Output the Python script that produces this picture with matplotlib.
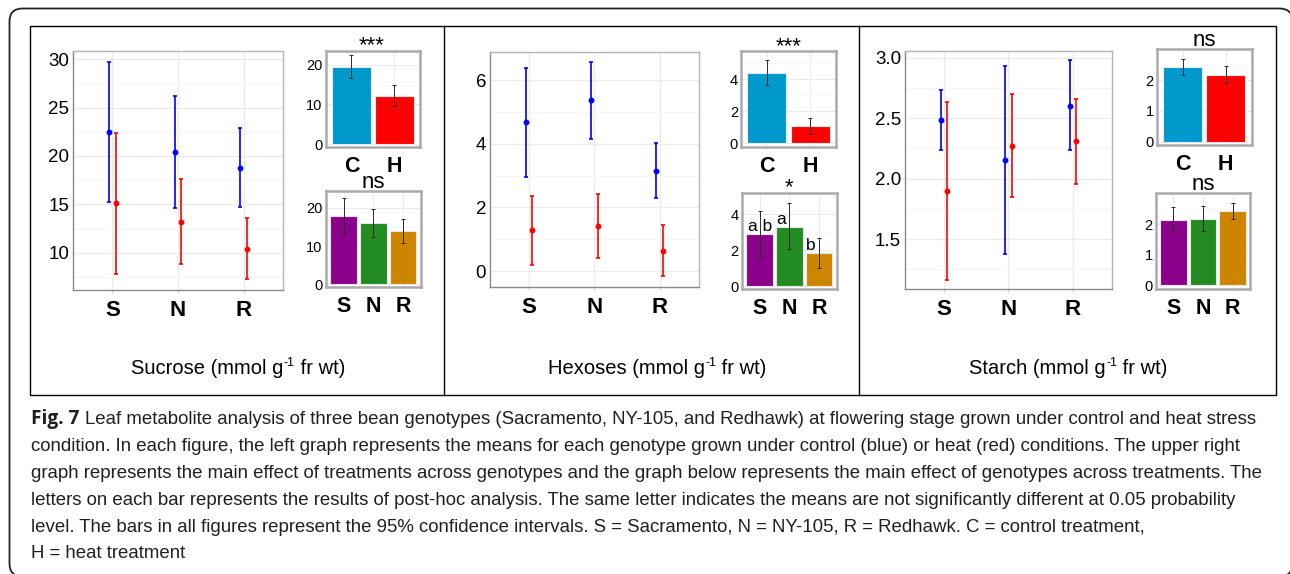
import matplotlib
matplotlib.use("Agg")
import matplotlib.pyplot as plt
from matplotlib.patches import FancyBboxPatch, Rectangle
from matplotlib import font_manager
import numpy as np

W, H, DPI = 1290, 574, 100

# ---------------- data ----------------
genotypes = ["S", "N", "R"]
treatments = ["C", "H"]

sucrose_ctrl_mean = [22.44, 20.40, 18.80]
sucrose_ctrl_lo = [15.20, 14.57, 14.70]
sucrose_ctrl_hi = [29.75, 26.20, 22.90]
sucrose_heat_mean = [15.10, 13.20, 10.40]
sucrose_heat_lo = [7.77, 8.83, 7.23]
sucrose_heat_hi = [22.37, 17.60, 13.55]
sucrose_trt_mean = [19.60, 12.15]
sucrose_trt_lo = [16.80, 9.50]
sucrose_trt_hi = [22.50, 14.80]
sucrose_gen_mean = [17.90, 15.90, 13.90]
sucrose_gen_lo = [13.10, 12.40, 10.80]
sucrose_gen_hi = [22.60, 19.60, 17.00]
sucrose_signif = ["***", "ns"]

hexoses_ctrl_mean = [4.67, 5.36, 3.15]
hexoses_ctrl_lo = [2.96, 4.15, 2.28]
hexoses_ctrl_hi = [6.38, 6.58, 4.01]
hexoses_heat_mean = [1.29, 1.41, 0.64]
hexoses_heat_lo = [0.19, 0.42, -0.16]
hexoses_heat_hi = [2.36, 2.43, 1.44]
hexoses_trt_mean = [4.41, 1.06]
hexoses_trt_lo = [3.64, 0.58]
hexoses_trt_hi = [5.19, 1.60]
hexoses_gen_mean = [2.90, 3.31, 1.83]
hexoses_gen_lo = [1.66, 2.05, 0.99]
hexoses_gen_hi = [4.20, 4.62, 2.70]
hexoses_gen_letters = ["a b", "a", "b"]
hexoses_signif = ["***", "*"]

starch_ctrl_mean = [2.486, 2.15, 2.60]
starch_ctrl_lo = [2.24, 1.376, 2.235]
starch_ctrl_hi = [2.73, 2.93, 2.98]
starch_heat_mean = [1.90, 2.27, 2.31]
starch_heat_lo = [1.164, 1.845, 1.955]
starch_heat_hi = [2.63, 2.70, 2.66]
starch_trt_mean = [2.42, 2.16]
starch_trt_lo = [2.16, 1.90]
starch_trt_hi = [2.68, 2.45]
starch_gen_mean = [2.15, 2.17, 2.43]
starch_gen_lo = [1.78, 1.78, 2.17]
starch_gen_hi = [2.55, 2.59, 2.68]
starch_signif = ["ns", "ns"]

metabolites = ["Sucrose", "Hexoses", "Starch"]
unit_pre = " (mmol g"
unit_sup = "-1"
unit_post = " fr wt)"

caption_bold = "Fig. 7"
caption_lines = [
    "Leaf metabolite analysis of three bean genotypes (Sacramento, NY-105, and Redhawk) at flowering stage grown under control and heat stress",
    "condition. In each figure, the left graph represents the means for each genotype grown under control (blue) or heat (red) conditions. The upper right",
    "graph represents the main effect of treatments across genotypes and the graph below represents the main effect of genotypes across treatments. The",
    "letters on each bar represents the results of post-hoc analysis. The same letter indicates the means are not significantly different at 0.05 probability",
    "level. The bars in all figures represent the 95% confidence intervals. S = Sacramento, N = NY-105, R = Redhawk. C = control treatment,",
    "H = heat treatment",
]

# ---------------- style ----------------
plt.rcParams['font.family'] = ['Liberation Sans', 'DejaVu Sans']

CTRL_COL, HEAT_COL = "#0000FF", "#FF0000"
TRT_COLS = ["#0099CC", "#FF0000"]
GEN_COLS = ["#8B008B", "#228B22", "#CD8500"]

fig = plt.figure(figsize=(W / DPI, H / DPI), dpi=DPI)
bg = fig.add_axes([0, 0, 1, 1], zorder=-5)
bg.set_xlim(0, W)
bg.set_ylim(H, 0)
bg.axis('off')

# frames
bg.add_patch(FancyBboxPatch((9.5, 8.5), 1283, 568, boxstyle="round,pad=0,rounding_size=13",
                            fc='white', ec='#222222', lw=1.3, clip_on=False))
bg.add_patch(Rectangle((29.5, 25.5), 1246, 369, fc='none', ec='black', lw=1.0))
bg.plot([443.5, 443.5], [25.5, 394.5], color='black', lw=1.0)
bg.plot([858.5, 858.5], [25.5, 394.5], color='black', lw=1.0)


def px_axes(x0, y0, x1, y1):
    return fig.add_axes([x0 / W, 1 - y1 / H, (x1 - x0) / W, (y1 - y0) / H])


def main_panel(rect, cm, clo, chi, hm, hlo, hhi, ylim, yticks, yminor, yfmt):
    ax = px_axes(*rect)
    x = np.arange(1, len(genotypes) + 1)
    for off, m, lo, hi, col in [(-0.05, cm, clo, chi, CTRL_COL), (0.05, hm, hlo, hhi, HEAT_COL)]:
        m = np.asarray(m); lo = np.asarray(lo); hi = np.asarray(hi)
        ax.errorbar(x + off, m, yerr=[m - lo, hi - m], fmt='o', color=col, ms=3.2,
                    elinewidth=1.2, capsize=1.6, capthick=1.2, zorder=3)
    ax.set_xlim(0.4, 3.6)
    ax.set_ylim(*ylim)
    ax.set_xticks(x)
    ax.set_xticklabels(genotypes, fontsize=16, fontweight='bold')
    ax.set_yticks(yticks)
    ax.set_yticklabels([yfmt.format(v) for v in yticks], fontsize=13.5)
    ax.set_yticks(yminor, minor=True)
    ax.tick_params(axis='x', length=2.2, color='#cfcfcf', pad=5)
    ax.tick_params(axis='y', length=0, pad=2.7)
    ax.tick_params(which='minor', length=0)
    ax.grid(True, which='major', color='#ebebeb', lw=0.9)
    ax.grid(True, which='minor', axis='y', color='#f5f5f5', lw=0.7)
    ax.set_axisbelow(True)
    for s in ['top', 'right']:
        ax.spines[s].set_color('#b5b5b5')
    for s in ['left', 'bottom']:
        ax.spines[s].set_color('#8a8a8a')
    for s in ax.spines.values():
        s.set_linewidth(1.0)
    return ax


def bar_panel(rect, cats, means, lo, hi, colors, ylim, yticks, yminor):
    ax = px_axes(*rect)
    x = np.arange(1, len(cats) + 1)
    m = np.asarray(means); lo = np.asarray(lo); hi = np.asarray(hi)
    ax.bar(x, m, width=0.9, color=colors, edgecolor='#e8e8e8', lw=0.8, zorder=2)
    ax.errorbar(x, m, yerr=[m - lo, hi - m], fmt='none', ecolor='#2a2a2a',
                elinewidth=0.7, capsize=1.6, capthick=0.7, zorder=3)
    ax.set_xlim(0.4, len(cats) + 0.6)
    ax.set_ylim(*ylim)
    ax.set_xticks(x)
    ax.set_xticklabels(cats, fontsize=15.5, fontweight='bold')
    ax.set_yticks(yticks)
    ax.set_yticklabels([str(v) for v in yticks], fontsize=10.5)
    ax.set_yticks(yminor, minor=True)
    ax.tick_params(axis='x', length=0, pad=6.5)
    ax.tick_params(axis='y', length=0, pad=2.2)
    ax.tick_params(which='minor', length=0)
    ax.grid(True, which='major', color='#ebebeb', lw=0.7)
    ax.grid(True, which='minor', axis='y', color='#f5f5f5', lw=0.5)
    ax.set_axisbelow(True)
    for s in ax.spines.values():
        s.set_color('#ababab')
        s.set_linewidth(1.8)
    return ax


def ptext(x, y, s, **kw):
    return fig.text(x, y, s, transform=bg.transData, **kw)


# ---------------- Sucrose ----------------
main_panel((73, 51, 283, 290), sucrose_ctrl_mean, sucrose_ctrl_lo, sucrose_ctrl_hi,
           sucrose_heat_mean, sucrose_heat_lo, sucrose_heat_hi,
           (6.14, 30.86), [10, 15, 20, 25, 30], [7.5, 12.5, 17.5, 22.5, 27.5], "{:d}")
bar_panel((325.7, 50.7, 420, 146.7), treatments, sucrose_trt_mean, sucrose_trt_lo, sucrose_trt_hi,
          TRT_COLS, (-0.68, 23.6), [0, 10, 20], [5, 15])
bar_panel((325.7, 190.7, 420.7, 287.3), genotypes, sucrose_gen_mean, sucrose_gen_lo, sucrose_gen_hi,
          GEN_COLS, (-0.73, 24.4), [0, 10, 20], [5, 15])
ptext(372, 51, sucrose_signif[0], fontsize=16, ha='center', va='baseline')
ptext(373, 188, sucrose_signif[1], fontsize=16, ha='center', va='baseline')

# ---------------- Hexoses ----------------
main_panel((490, 51.7, 698.7, 286.7), hexoses_ctrl_mean, hexoses_ctrl_lo, hexoses_ctrl_hi,
           hexoses_heat_mean, hexoses_heat_lo, hexoses_heat_hi,
           (-0.49, 6.89), [0, 2, 4, 6], [1, 3, 5], "{:d}")
bar_panel((741, 50.7, 836, 146.7), treatments, hexoses_trt_mean, hexoses_trt_lo, hexoses_trt_hi,
          TRT_COLS, (-0.21, 5.79), [0, 2, 4], [1, 3, 5])
axg = bar_panel((741.7, 192.7, 836.7, 288.7), genotypes, hexoses_gen_mean, hexoses_gen_lo, hexoses_gen_hi,
                GEN_COLS, (-0.15, 5.21), [0, 2, 4], [1, 3, 5])
letter_dx = [0.5, -5.5, -6]
for i, (lab, m) in enumerate(zip(hexoses_gen_letters, hexoses_gen_mean)):
    axg.annotate(lab, (i + 1, m), xytext=(letter_dx[i], 2.0), textcoords='offset points',
                 ha='center', va='baseline', fontsize=12.5, zorder=4)
ptext(788.5, 52.5, hexoses_signif[0], fontsize=16, ha='center', va='baseline')
ptext(789, 193.5, hexoses_signif[1], fontsize=16, ha='center', va='baseline')

# ---------------- Starch ----------------
main_panel((905, 51, 1111.7, 289.3), starch_ctrl_mean, starch_ctrl_lo, starch_ctrl_hi,
           starch_heat_mean, starch_heat_lo, starch_heat_hi,
           (1.084, 3.055), [1.5, 2.0, 2.5, 3.0], [1.25, 1.75, 2.25, 2.75], "{:.1f}")
bar_panel((1156.7, 49.3, 1251.7, 145), treatments, starch_trt_mean, starch_trt_lo, starch_trt_hi,
          TRT_COLS, (-0.11, 3.0), [0, 1, 2], [0.5, 1.5, 2.5])
bar_panel((1155.7, 192.7, 1250.3, 288.7), genotypes, starch_gen_mean, starch_gen_lo, starch_gen_hi,
          GEN_COLS, (-0.12, 3.03), [0, 1, 2], [0.5, 1.5, 2.5])
ptext(1204, 46, starch_signif[0], fontsize=16, ha='center', va='baseline')
ptext(1203, 190.5, starch_signif[1], fontsize=16, ha='center', va='baseline')

renderer = fig.canvas.get_renderer()

# ---------------- axis titles (with real-text superscript) ----------------
TITLE_FS = 14.5
for xc, name in zip([237.7, 656.7, 1068.3], metabolites):
    t1 = ptext(0, 374, name + unit_pre, fontsize=TITLE_FS, va='baseline')
    t2 = ptext(0, 374 - 7.5, unit_sup, fontsize=TITLE_FS * 0.62, va='baseline')
    t3 = ptext(0, 374, unit_post, fontsize=TITLE_FS, va='baseline')
    w1 = t1.get_window_extent(renderer).width
    w2 = t2.get_window_extent(renderer).width
    w3 = t3.get_window_extent(renderer).width
    x0 = xc - (w1 + w2 + w3) / 2
    t1.set_x(x0)
    t2.set_x(x0 + w1 + 0.5)
    t3.set_x(x0 + w1 + w2 + 0.5)

# ---------------- caption ----------------
names = {f.name for f in font_manager.fontManager.ttflist}
cap_family = ['Liberation Sans Narrow', 'DejaVu Sans'] if 'Liberation Sans Narrow' in names \
    else ['Liberation Sans', 'DejaVu Sans']
CAP_COL = "#231f20"
baselines = [424, 451, 478, 505, 532, 558]
fs = 12.0
bold_t = ptext(31, baselines[0], caption_bold, fontsize=fs, fontweight='bold',
               family=['Open Sans', 'DejaVu Sans'], color=CAP_COL, va='baseline')
line_ts = [ptext(31, b, s, fontsize=fs, family=cap_family, color=CAP_COL, va='baseline')
           for b, s in zip(baselines, caption_lines)]
for _ in range(3):
    bb = bold_t.get_window_extent(renderer)
    start = bb.x1 + 0.3 * fs * DPI / 72
    line_ts[0].set_x(start)
    w = line_ts[0].get_window_extent(renderer).x1 - 31
    fs = fs * (1262 - 31) / w
    bold_t.set_fontsize(fs * 1.02)
    for t in line_ts:
        t.set_fontsize(fs)
bb = bold_t.get_window_extent(renderer)
line_ts[0].set_x(bb.x1 + 0.3 * fs * DPI / 72)

fig.savefig("out.png", dpi=DPI, facecolor='white')
